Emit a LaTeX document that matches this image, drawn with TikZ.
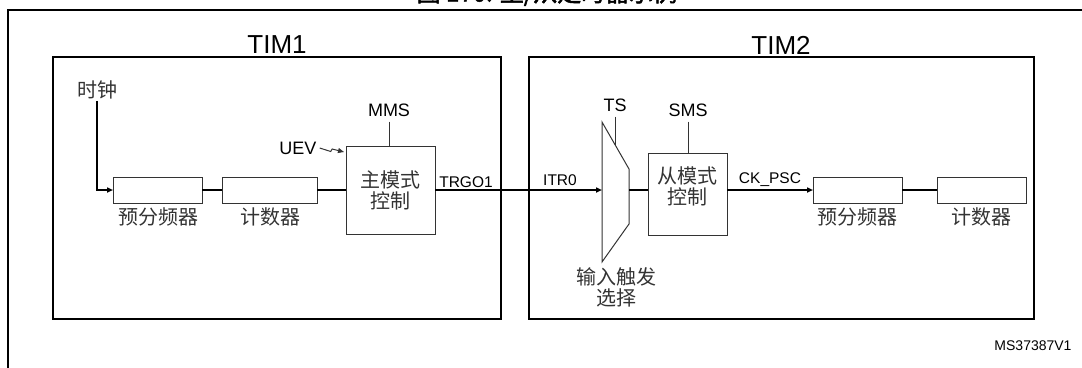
\documentclass[tikz,border=0pt]{standalone}
\usepackage{fontspec}
\setmainfont{Liberation Sans}
\newfontfamily\cjk{Noto Sans CJK SC}
\newfontfamily\cjkb[FakeBold=2]{Noto Sans CJK SC}
\usetikzlibrary{arrows.meta}
\begin{document}
\begin{tikzpicture}[x=1pt,y=-1pt,
  box/.style={draw=black!80, line width=1pt, inner sep=0pt, outer sep=0pt},
  timbox/.style={draw=black, line width=2pt},
  sig/.style={draw=black, line width=1.8pt},
  thinline/.style={draw=black!80, line width=1pt},
  arr/.style={-{Triangle[length=6pt,width=5pt]}},
  cjklabel/.style={font=\cjk\fontsize{20}{21}\selectfont, text=black!80, inner sep=0pt, align=center},
  lbl/.style={font=\fontsize{18}{18}\selectfont, inner sep=0pt},
  slbl/.style={font=\fontsize{15.5}{16}\selectfont, inner sep=0pt},
  timlbl/.style={font=\fontsize{26}{26}\selectfont, inner sep=0pt}
]
\useasboundingbox (0,0) rectangle (1082,367);
% partially visible title
\node[font=\cjkb\fontsize{24}{24}\selectfont, anchor=base, inner sep=0pt] (title) at (547,1.5) {图 170. 主/从定时器示例};
% outer frame
\draw[line width=2pt] (8,368) -- (8,10) -- (1083,10);
% timer boxes
\draw[timbox] (53,57) rectangle (501,319);
\draw[timbox] (529,57) rectangle (1034,319);
\node[timlbl] (tim1) at (277,45) {TIM1};
\node[timlbl] (tim2) at (781,45) {TIM2};
% TIM1 blocks
\node[box, minimum width=89pt, minimum height=26pt] (psc1) at (157.5,190) {};
\node[box, minimum width=95pt, minimum height=26pt] (cnt1) at (269.5,190) {};
\node[box, minimum width=89pt, minimum height=88pt] (master) at (390.5,190) {};
\node[cjklabel] (mastertxt) at (390.5,190.5) {主模式\\控制};
\node[cjklabel] (psc1lbl) at (158,217) {预分频器};
\node[cjklabel] (cnt1lbl) at (270,217) {计数器};
\node[cjklabel] (clk) at (97,90) {时钟};
\node[lbl] (mms) at (389,110) {MMS};
\node[lbl] (uev) at (298,148) {UEV};
\node[slbl] (trgo) at (466,182) {TRGO1};
% TIM2 blocks
\draw[box] (602,122) -- (629,169) -- (629,224) -- (602,262) -- cycle;
\coordinate (muxin) at (602,190);
\coordinate (muxout) at (629,190);
\coordinate (tsend) at (615,144.7);
\node[box, minimum width=79pt, minimum height=82pt] (slave) at (687.5,194) {};
\node[cjklabel] (slavetxt) at (687.5,186) {从模式\\控制};
\node[box, minimum width=89pt, minimum height=26pt] (psc2) at (857.5,190) {};
\node[box, minimum width=89pt, minimum height=26pt] (cnt2) at (981.5,190) {};
\node[cjklabel] (psc2lbl) at (857.5,217) {预分频器};
\node[cjklabel] (cnt2lbl) at (981.5,217) {计数器};
\node[lbl] (ts) at (615,105) {TS};
\node[lbl] (sms) at (688,110) {SMS};
\node[slbl] (itr) at (560,180) {ITR0};
\node[slbl] (ckpsc) at (770,180) {CK\_PSC};
\node[cjklabel] (tsel) at (616,287) {输入触发\\选择};
\node[font=\fontsize{14}{14}\selectfont, inner sep=0pt] (ms) at (1033,346) {MS37387V1};
% connectors
\draw[sig,arr] (clk.south) ++(0,1.5) |- (psc1.west);
\draw[sig] (psc1) -- (cnt1);
\draw[sig] (cnt1) -- (master);
\draw[sig,arr] (master.east) -- (muxin);
\draw[sig] (muxout) -- (slave.west |- muxout);
\draw[sig,arr] (slave.east |- muxout) -- (psc2.west);
\draw[sig] (psc2) -- (cnt2);
\draw[thinline] (mms.south) ++(0,5) -- (mms.south |- master.north);
\draw[thinline] (sms.south) ++(0,5) -- (sms.south |- slave.north);
\draw[thinline] (ts.south) ++(0,5) -- (tsend);
\coordinate (uevtip) at (344,152);
\draw[thinline, arr] (uev.east) ++(3,0) -- ++(11,3.5) -- ++(1.5,-2.5) -- (uevtip);
\end{tikzpicture}
\end{document}
